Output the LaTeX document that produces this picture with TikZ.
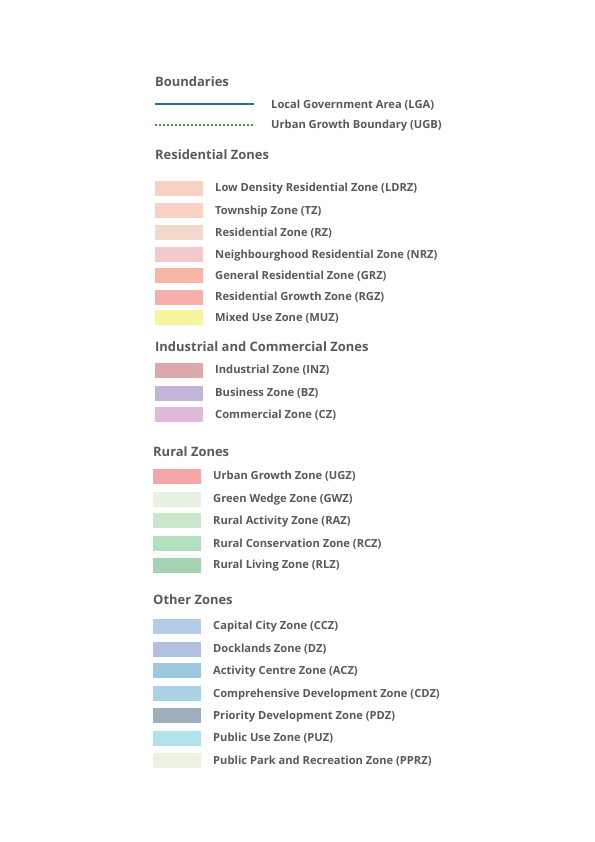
\documentclass[tikz,border=0pt]{standalone}
\usepackage{fontspec}
\setmainfont{Open Sans}[Ligatures=NoCommon]
\definecolor{txt}{HTML}{58595B}
\definecolor{lga}{HTML}{2E6E92}
\definecolor{ugb}{HTML}{4E9A3E}
\definecolor{cLDRZ}{HTML}{F9D1C4}
\definecolor{cTZ}{HTML}{F9D2C5}
\definecolor{cRZ}{HTML}{F2D9CB}
\definecolor{cNRZ}{HTML}{F2CACD}
\definecolor{cGRZ}{HTML}{F6B8A4}
\definecolor{cRGZ}{HTML}{F5B0AC}
\definecolor{cMUZ}{HTML}{F8F49E}
\definecolor{cINZ}{HTML}{DCA9AB}
\definecolor{cBZ}{HTML}{C2B5D7}
\definecolor{cCZ}{HTML}{DFBADB}
\definecolor{cUGZ}{HTML}{F4A6A8}
\definecolor{cGWZ}{HTML}{E7F2E5}
\definecolor{cRAZ}{HTML}{CCE6CB}
\definecolor{cRCZ}{HTML}{B3DFBF}
\definecolor{cRLZ}{HTML}{A5D2B3}
\definecolor{cCCZ}{HTML}{B6CDE7}
\definecolor{cDZ}{HTML}{B2BFDF}
\definecolor{cACZ}{HTML}{9DC7E0}
\definecolor{cCDZ}{HTML}{ABD3E6}
\definecolor{cPDZ}{HTML}{9DAEBA}
\definecolor{cPUZ}{HTML}{B3E1EC}
\definecolor{cPPRZ}{HTML}{EBF3E0}
\tikzset{
  header/.style={anchor=base west, inner sep=0pt, text=txt, font=\fontsize{13}{15}\selectfont\bfseries},
  lbl/.style={anchor=base west, inner sep=0pt, text=txt, font=\fontsize{11.2}{13}\selectfont\bfseries},
  swatch/.style={fill=#1, draw=none, minimum width=48bp, minimum height=15bp, inner sep=0pt, anchor=west}
}
\begin{document}
\begin{tikzpicture}[x=1bp,y=-1bp]
\useasboundingbox (0,0) rectangle (595,842);
% Boundaries
\node[header] (hB) at (155,86) {Boundaries};
\coordinate (lgaA) at (155,104);
\coordinate (lgaB) at (254,104);
\draw[lga, line width=1.6bp] (lgaA) -- (lgaB);
\node[lbl] (tLGA) at (271,108) {Local Government Area (LGA)};
\coordinate (ugbA) at (155,124.5);
\coordinate (ugbB) at (254,124.5);
\draw[ugb, line width=2bp, dash pattern=on 2bp off 2bp] (ugbA) -- (ugbB);
\node[lbl] (tUGB) at (271,128.5) {Urban Growth Boundary (UGB)};
% Residential
\node[header] (hR) at (155,159.5) {Residential Zones};
\foreach \y/\c/\t in {188/LDRZ/Low Density Residential Zone (LDRZ),
                      210.5/TZ/Township Zone (TZ),
                      232.5/RZ/Residential Zone (RZ),
                      254.5/NRZ/Neighbourghood Residential Zone (NRZ),
                      275.5/GRZ/General Residential Zone (GRZ),
                      297/RGZ/Residential Growth Zone (RGZ),
                      317.5/MUZ/Mixed Use Zone (MUZ)}{
  \node[swatch=c\c] (s\c) at (155,\y) {};
  \node[lbl] (t\c) at (215,\y+3.8) {\t};
}
% Industrial
\node[header] (hI) at (155,351.5) {Industrial and Commercial Zones};
\foreach \y/\c/\t in {370/INZ/Industrial Zone (INZ),
                      393/BZ/Business Zone (BZ),
                      414.5/CZ/Commercial Zone (CZ)}{
  \node[swatch=c\c] (s\c) at (155,\y) {};
  \node[lbl] (t\c) at (215,\y+3.8) {\t};
}
% Rural
\node[header] (hRu) at (153,456.5) {Rural Zones};
\foreach \y/\c/\t in {476/UGZ/Urban Growth Zone (UGZ),
                      499/GWZ/Green Wedge Zone (GWZ),
                      520.5/RAZ/Rural Activity Zone (RAZ),
                      543.5/RCZ/Rural Conservation Zone (RCZ),
                      565/RLZ/Rural Living Zone (RLZ)}{
  \node[swatch=c\c] (s\c) at (153,\y) {};
  \node[lbl] (t\c) at (213,\y+3.8) {\t};
}
% Other
\node[header] (hO) at (153,604.5) {Other Zones};
\foreach \y/\c/\t in {626/CCZ/Capital City Zone (CCZ),
                      649/DZ/Docklands Zone (DZ),
                      670.5/ACZ/Activity Centre Zone (ACZ),
                      693.5/CDZ/Comprehensive Development Zone (CDZ),
                      715.5/PDZ/Priority Development Zone (PDZ),
                      738/PUZ/Public Use Zone (PUZ),
                      760.5/PPRZ/Public Park and Recreation Zone (PPRZ)}{
  \node[swatch=c\c] (s\c) at (153,\y) {};
  \node[lbl] (t\c) at (213,\y+3.8) {\t};
}
\end{tikzpicture}
\end{document}
